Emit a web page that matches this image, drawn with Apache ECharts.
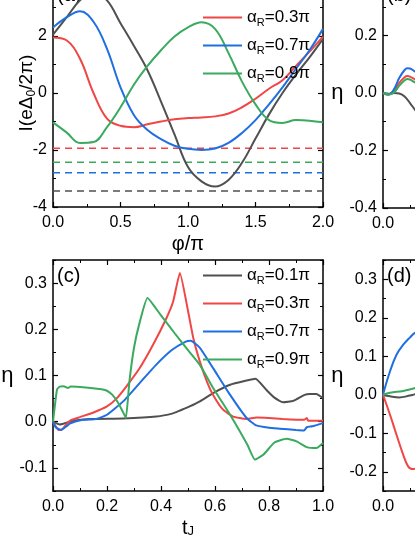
<!DOCTYPE html>
<html><head><meta charset="utf-8">
<script src="https://cdn.jsdelivr.net/npm/echarts@6/dist/echarts.min.js"></script>
<style>html,body{margin:0;padding:0;background:#fff}#c{width:415px;height:537px}</style>
</head><body><div id="c"></div>
<script>
// ---------- data ----------
const seriesNames = ['αR=0.1π', 'αR=0.3π', 'αR=0.7π', 'αR=0.9π'];

// panel (a): I(eΔ0/2π) vs φ/π
const phiA   = [0, 0.1, 0.2, 0.3, 0.4, 0.5, 0.6, 0.7, 0.8, 0.9, 1.0, 1.1, 1.2, 1.3, 1.4, 1.5, 1.6, 1.7, 1.8, 1.9, 2.0];
const aBlack = [2.05, 2.65, 3.25, 3.55, 3.25, 2.45, 1.65, 0.8, -0.3, -1.45, -2.6, -3.1, -3.28, -3.05, -2.45, -1.6, -0.75, 0.0, 0.65, 1.25, 1.9];
const aRed   = [1.95, 1.85, 1.2, 0.0, -0.9, -1.15, -1.2, -1.1, -1.0, -0.92, -0.88, -0.86, -0.82, -0.72, -0.5, -0.2, 0.15, 0.45, 0.95, 1.45, 1.98];
const aBlue  = [2.3, 2.65, 2.87, 2.5, 1.55, 0.2, -0.78, -1.3, -1.62, -1.85, -1.96, -2.0, -1.95, -1.75, -1.4, -0.95, -0.4, 0.2, 0.85, 1.5, 2.25];
const aGreen = [-1.03, -1.38, -1.75, -1.72, -1.2, -0.5, 0.3, 0.95, 1.5, 1.98, 2.3, 2.48, 2.25, 1.4, 0.4, -0.4, -0.95, -1.05, -0.95, -0.97, -1.03];
const aDashed = [-3.44, -1.94, -2.80, -2.43]; // black, red, blue, green

// panel (b): η vs t_J (only the left edge is visible)
const bBlack = [[0,0],[0.02,-0.003],[0.04,0.0],[0.06,-0.002],[0.08,-0.012],[0.1,-0.035],[0.12,-0.06],[0.14,-0.08]];
const bRed   = [[0,0],[0.02,-0.005],[0.04,0.006],[0.06,0.035],[0.08,0.055],[0.09,0.059],[0.1,0.057],[0.12,0.047],[0.14,0.04]];
const bBlue  = [[0,0],[0.02,-0.005],[0.04,0.012],[0.06,0.052],[0.08,0.08],[0.09,0.086],[0.1,0.085],[0.12,0.074],[0.14,0.066]];
const bGreen = [[0,0],[0.02,-0.005],[0.04,0.001],[0.06,0.025],[0.08,0.044],[0.09,0.049],[0.1,0.047],[0.12,0.036],[0.14,0.03]];

// panel (c): η vs t_J
const cBlack = [[0,0],[0.025,-0.006],[0.074,0.002],[0.136,0.006],[0.26,0.007],[0.383,0.011],[0.444,0.018],[0.469,0.024],[0.506,0.033],[0.544,0.044],[0.593,0.062],[0.656,0.08],[0.717,0.089],[0.75,0.093],[0.79,0.069],[0.82,0.052],[0.852,0.042],[0.89,0.045],[0.932,0.058],[0.95,0.06],[0.975,0.06],[1.0,0.051]];
const cRed   = [[0,0],[0.01,-0.01],[0.02,-0.018],[0.035,-0.016],[0.05,-0.005],[0.065,0.003],[0.1,0.01],[0.15,0.02],[0.2,0.033],[0.235,0.05],[0.27,0.075],[0.32,0.115],[0.37,0.166],[0.42,0.224],[0.445,0.26],[0.47,0.322],[0.5,0.24],[0.52,0.18],[0.544,0.13],[0.57,0.087],[0.593,0.058],[0.63,0.026],[0.667,0.011],[0.717,0.006],[0.753,0.009],[0.8,0.008],[0.85,0.006],[0.93,0.004],[0.94,0.008],[0.945,0.002],[1.0,0.002]];
const cBlue  = [[0,0],[0.01,-0.012],[0.03,-0.018],[0.05,-0.01],[0.062,-0.004],[0.11,0.004],[0.16,0.006],[0.2,0.015],[0.26,0.044],[0.32,0.083],[0.38,0.122],[0.44,0.155],[0.49,0.173],[0.51,0.175],[0.544,0.16],[0.593,0.116],[0.656,0.058],[0.717,0.008],[0.753,-0.008],[0.8,-0.013],[0.84,-0.015],[0.9,-0.018],[0.93,-0.019],[0.94,-0.012],[0.96,-0.01],[1.0,-0.003]];
const cGreen = [[0,0],[0.008,0.04],[0.015,0.07],[0.025,0.076],[0.04,0.077],[0.055,0.073],[0.065,0.076],[0.1,0.075],[0.14,0.073],[0.18,0.07],[0.2,0.067],[0.22,0.058],[0.24,0.042],[0.26,0.02],[0.27,0.008],[0.283,0.087],[0.3,0.16],[0.321,0.215],[0.35,0.268],[0.4,0.23],[0.45,0.192],[0.5,0.155],[0.544,0.123],[0.593,0.073],[0.656,0.015],[0.72,-0.05],[0.748,-0.082],[0.78,-0.071],[0.82,-0.045],[0.865,-0.037],[0.9,-0.042],[0.94,-0.055],[0.976,-0.057],[1.0,-0.046]];

// panel (d): η vs t_J (only the left edge is visible)
const dBlack = [[0,0],[0.026,-0.004],[0.06,-0.007],[0.1,-0.002],[0.117,0.001],[0.14,0.004]];
const dRed   = [[0,0],[0.026,-0.052],[0.05,-0.104],[0.075,-0.156],[0.093,-0.186],[0.11,-0.193],[0.13,-0.19]];
const dBlue  = [[0,0],[0.026,0.061],[0.05,0.104],[0.075,0.13],[0.1,0.149],[0.117,0.16],[0.14,0.17]];
const dGreen = [[0,0],[0.026,0.005],[0.075,0.01],[0.117,0.017],[0.14,0.02]];

// tick values
const ticksA_x = [0, 0.5, 1.0, 1.5, 2.0], minorA_x = [0.25, 0.75, 1.25, 1.75];
const ticksA_y = [-4, -2, 0, 2, 4],        minorA_y = [-3, -1, 1, 3];
const ticksB_y = [-0.4, -0.2, 0, 0.2, 0.4], minorB_y = [-0.3, -0.1, 0.1, 0.3];
const ticksT_x = [0, 0.2, 0.4, 0.6, 0.8, 1.0], minorT_x = [0.1, 0.3, 0.5, 0.7, 0.9];
const ticksC_y = [-0.1, 0, 0.1, 0.2, 0.3], minorC_y = [-0.15, -0.05, 0.05, 0.15, 0.25, 0.35];
const ticksD_y = [-0.2, -0.1, 0, 0.1, 0.2, 0.3], minorD_y = [-0.25, -0.15, -0.05, 0.05, 0.15, 0.25, 0.35];

// ---------- chart ----------
const FONT = '"Liberation Sans", Arial, sans-serif';
const COLORS = ['#505050', '#f04646', '#1f6fe0', '#3aaa5e'];
const SUB = {fontSize: 11, fontFamily: FONT, color: '#000', padding: [10, 0, 0, 0]};

const grids = [
  {left: 53, top: -21, width: 270, height: 228, outerBoundsMode: 'none', containLabel: false},   // a
  {left: 383, top: -22, width: 270, height: 230, outerBoundsMode: 'none', containLabel: false},  // b
  {left: 53, top: 260, width: 270, height: 231, outerBoundsMode: 'none', containLabel: false},   // c
  {left: 383, top: 260, width: 270, height: 231, outerBoundsMode: 'none', containLabel: false}   // d
];

const xAxes = [], yAxes = [];
function addAxes(list, dim, grid, min, max, majors, minors, fmt, extra) {
  const mainPos = dim === 'x' ? 'bottom' : 'left';
  const mirPos = dim === 'x' ? 'top' : 'right';
  const idx = list.length;
  const base = {type: 'value', gridIndex: grid, min: min, max: max, splitLine: {show: false}};
  const lineOn = {show: true, onZero: false, lineStyle: {color: '#000', width: 1.5}};
  const lineOff = {show: false, onZero: false};
  const tMaj = {show: true, inside: true, length: 5, customValues: majors, lineStyle: {color: '#000', width: 1.2}};
  const tMin = {show: true, inside: true, length: 3, customValues: minors, lineStyle: {color: '#000', width: 1}};
  list.push(Object.assign({}, base, {position: mainPos, axisLine: lineOn, axisTick: tMaj,
    axisLabel: {show: true, customValues: majors, formatter: fmt, color: '#000', fontSize: 16, fontFamily: FONT,
      margin: dim === 'x' ? 8 : 6}}, extra || {}));
  list.push(Object.assign({}, base, {position: mainPos, axisLine: lineOff, axisTick: tMin, axisLabel: {show: false}}));
  list.push(Object.assign({}, base, {position: mirPos, axisLine: lineOn, axisTick: tMaj, axisLabel: {show: false}}));
  list.push(Object.assign({}, base, {position: mirPos, axisLine: lineOff, axisTick: tMin, axisLabel: {show: false}}));
  return idx;
}
const f1 = v => v.toFixed(1);
const f0 = v => String(Math.round(v));
const etaName = {name: 'η', nameLocation: 'middle', nameRotate: 0, nameGap: 31,
  nameTextStyle: {fontSize: 22, fontFamily: FONT, color: '#000'}};
const tName = {name: 't{s|J}', nameLocation: 'middle', nameGap: 27,
  nameTextStyle: {fontSize: 20, fontFamily: FONT, color: '#000', rich: {s: Object.assign({}, SUB, {fontSize: 13, padding: [7, 0, 0, 0]})}}};

const xa = addAxes(xAxes, 'x', 0, 0, 2, ticksA_x, minorA_x, f1,
  {name: 'φ/π', nameLocation: 'middle', nameGap: 27, nameTextStyle: {fontSize: 20, fontFamily: FONT, color: '#000'}});
const ya = addAxes(yAxes, 'y', 0, -4, 4, ticksA_y, minorA_y, f0,
  {name: 'I(eΔ{s|0}/2π)', nameLocation: 'middle', nameRotate: 90, nameGap: 15, nameMoveOverlap: false,
   nameTextStyle: {fontSize: 19, fontFamily: FONT, color: '#000', rich: {s: Object.assign({}, SUB, {fontSize: 12})}}});
const xb = addAxes(xAxes, 'x', 1, 0, 1, ticksT_x, minorT_x, f1);
const yb = addAxes(yAxes, 'y', 1, -0.4, 0.4, ticksB_y, minorB_y, f1, etaName);
const xc = addAxes(xAxes, 'x', 2, 0, 1, ticksT_x, minorT_x, f1, tName);
const yc = addAxes(yAxes, 'y', 2, -0.15, 0.35, ticksC_y, minorC_y, f1, etaName);
const xd = addAxes(xAxes, 'x', 3, 0, 1, ticksT_x, minorT_x, f1, tName);
const yd = addAxes(yAxes, 'y', 3, -0.25, 0.35, ticksD_y, minorD_y, f1, etaName);

const series = [];
function addLine(name, color, data, xi, yi, smooth) {
  series.push({type: 'line', name: name, data: data, xAxisIndex: xi, yAxisIndex: yi,
    symbol: 'none', smooth: smooth, lineStyle: {color: color, width: 2}, itemStyle: {color: color}, z: 3});
}
const pairs = (xs, ys) => xs.map((x, i) => [x, ys[i]]);
[aBlack, aRed, aBlue, aGreen].forEach((ys, i) => addLine(seriesNames[i], COLORS[i], pairs(phiA, ys), xa, ya, 0.4));
aDashed.forEach((v, i) => series.push({type: 'line', name: 'ref' + i, data: [[0, v], [2, v]], xAxisIndex: xa, yAxisIndex: ya,
  symbol: 'none', lineStyle: {color: COLORS[i], width: 1.5, type: [7, 5]}, z: 2}));
[bBlack, bRed, bBlue, bGreen].forEach((d, i) => addLine(seriesNames[i], COLORS[i], d, xb, yb, 0.4));
[cBlack, cRed, cBlue, cGreen].forEach((d, i) => addLine(seriesNames[i], COLORS[i], d, xc, yc, 0.15));
[dBlack, dRed, dBlue, dGreen].forEach((d, i) => addLine(seriesNames[i], COLORS[i], d, xd, yd, 0.4));

const legendBase = {orient: 'vertical', icon: 'rect', itemWidth: 39, itemHeight: 2, itemGap: 9, data: seriesNames,
  formatter: n => n.replace('αR', 'α{s|R}'),
  textStyle: {fontSize: 17, fontFamily: FONT, color: '#000', rich: {s: SUB}}};

const labelStyle = {fontSize: 20, fontFamily: FONT, fill: '#000'};
const option = {
  animation: false,
  backgroundColor: '#fff',
  grid: grids,
  xAxis: xAxes,
  yAxis: yAxes,
  legend: [Object.assign({left: 198, top: -24}, legendBase), Object.assign({left: 198, top: 262}, legendBase)],
  graphic: [
    {type: 'text', left: 57, top: -15, style: Object.assign({text: '(a)'}, labelStyle)},
    {type: 'text', left: 387, top: -15, style: Object.assign({text: '(b)'}, labelStyle)},
    {type: 'text', left: 57, top: 266, style: Object.assign({text: '(c)'}, labelStyle)},
    {type: 'text', left: 387, top: 266, style: Object.assign({text: '(d)'}, labelStyle)}
  ],
  series: series
};
const chart = echarts.init(document.getElementById('c'), null, {renderer: 'canvas'});
chart.setOption(option);
</script>
</body></html>
